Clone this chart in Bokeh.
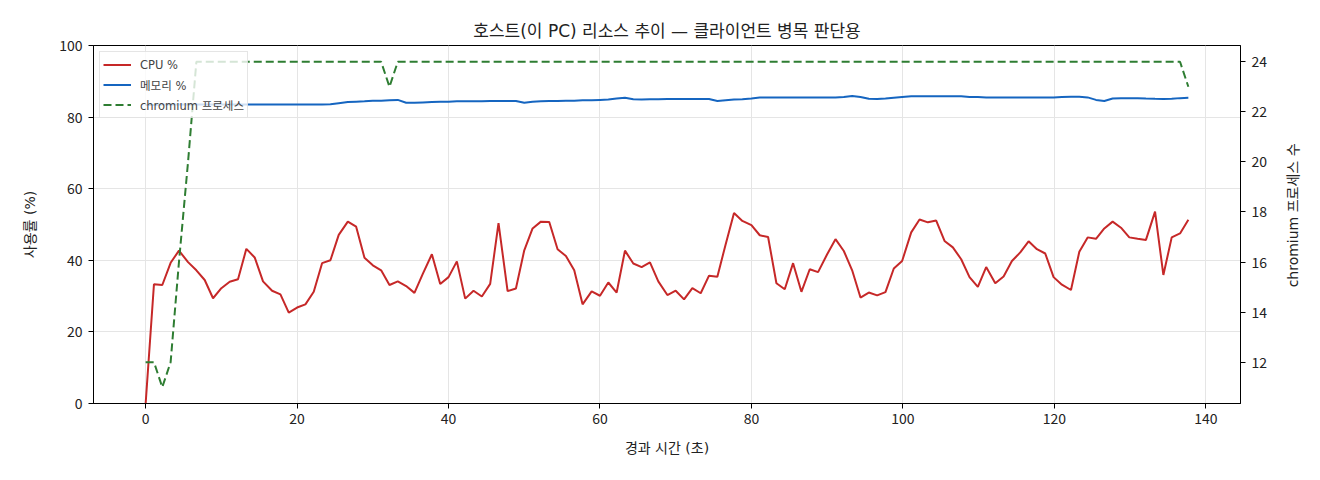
import math
from bokeh.plotting import figure
from bokeh.models import Range1d, LinearAxis, FixedTicker
from bokeh.layouts import row
from bokeh.core.properties import value
from bokeh.embed import file_html
from bokeh.resources import INLINE

FONT = "Noto Sans CJK KR"
WIDE = "DejaVu Sans, Noto Sans CJK KR"

# elapsed seconds of each sample
elapsed = [
    0.0, 1.1, 2.2, 3.3, 4.4, 5.6, 6.7, 7.8, 8.9, 10.0,
    11.1, 12.2, 13.3, 14.4, 15.5, 16.7, 17.8, 18.9, 20.0, 21.1,
    22.2, 23.3, 24.4, 25.5, 26.7, 27.8, 28.9, 30.0, 31.1, 32.2,
    33.3, 34.4, 35.5, 36.6, 37.8, 38.9, 40.0, 41.1, 42.2, 43.3,
    44.4, 45.5, 46.6, 47.8, 48.9, 50.0, 51.1, 52.2, 53.3, 54.4,
    55.5, 56.6, 57.7, 58.9, 60.0, 61.1, 62.2, 63.3, 64.4, 65.5,
    66.6, 67.7, 68.9, 70.0, 71.1, 72.2, 73.3, 74.4, 75.5, 76.6,
    77.7, 78.8, 80.0, 81.1, 82.2, 83.3, 84.4, 85.5, 86.6, 87.7,
    88.8, 90.0, 91.1, 92.2, 93.3, 94.4, 95.5, 96.6, 97.7, 98.8,
    99.9, 101.1, 102.2, 103.3, 104.4, 105.5, 106.6, 107.7, 108.8, 109.9,
    111.0, 112.2, 113.3, 114.4, 115.5, 116.6, 117.7, 118.8, 119.9, 121.0,
    122.2, 123.3, 124.4, 125.5, 126.6, 127.7, 128.8, 129.9, 131.0, 132.1,
    133.3, 134.4, 135.5, 136.6, 137.7,
]

cpu_pct = [
    0.0,
    33.3, 33.1, 39.3, 42.7, 39.5, 37.2, 34.5, 29.4, 32.2, 34.0,
    34.7, 43.2, 40.8, 34.1, 31.5, 30.5, 25.4, 26.8, 27.7, 31.2,
    39.2, 40.0, 47.1, 50.8, 49.4, 40.7, 38.6, 37.2, 33.1, 34.1,
    32.8, 30.9, 36.2, 41.7, 33.4, 35.3, 39.7, 29.3, 31.5, 29.9,
    33.4, 50.4, 31.4, 32.1, 42.8, 48.9, 50.8, 50.7, 43.1, 41.2,
    37.2, 27.7, 31.3, 30.1, 33.8, 31.0, 42.7, 39.1, 38.1, 39.4,
    34.1, 30.3, 31.5, 29.1, 32.2, 30.8, 35.7, 35.4, 44.5, 53.2,
    51.0, 49.8, 47.0, 46.5, 33.6, 31.9, 39.2, 31.2, 37.5, 36.7,
    41.7, 45.9, 42.6, 37.2, 29.6, 31.0, 30.2, 31.1, 37.7, 39.8,
    47.8, 51.4, 50.6, 51.1, 45.4, 43.6, 40.3, 35.3, 32.6, 38.1,
    33.6, 35.5, 39.8, 42.2, 45.3, 43.1, 41.9, 35.3, 33.2, 31.7,
    42.4, 46.4, 46.0, 48.9, 50.8, 49.1, 46.4, 46.0, 45.7, 53.6,
    35.9, 46.4, 47.5, 51.3,
]

mem_pct = [
    83.4, 83.4, 83.5, 83.5, 83.5, 83.5, 83.5, 83.5, 83.5, 83.5,
    83.5, 83.5, 83.5, 83.5, 83.55, 83.55, 83.55, 83.55, 83.55, 83.55,
    83.55, 83.55, 83.6, 83.9, 84.2, 84.3, 84.4, 84.6, 84.6, 84.7,
    84.8, 84.0, 84.0, 84.1, 84.2, 84.3, 84.3, 84.4, 84.4, 84.4,
    84.4, 84.5, 84.5, 84.5, 84.5, 84.0, 84.3, 84.4, 84.5, 84.5,
    84.6, 84.6, 84.7, 84.7, 84.8, 84.9, 85.2, 85.4, 85.0, 84.95,
    85.0, 85.0, 85.05, 85.05, 85.05, 85.05, 85.05, 85.05, 84.5, 84.7,
    84.9, 85.0, 85.2, 85.5, 85.5, 85.5, 85.5, 85.5, 85.5, 85.5,
    85.5, 85.5, 85.5, 85.6, 85.9, 85.6, 85.1, 85.05, 85.2, 85.4,
    85.6, 85.8, 85.8, 85.8, 85.8, 85.8, 85.8, 85.8, 85.6, 85.6,
    85.5, 85.5, 85.5, 85.5, 85.5, 85.5, 85.5, 85.5, 85.5, 85.6,
    85.7, 85.7, 85.5, 84.8, 84.5, 85.2, 85.3, 85.3, 85.3, 85.2,
    85.1, 85.05, 85.1, 85.3, 85.4,
]

chromium_procs = [
    12, 12, 11, 12, 16, 20, 24, 24, 24, 24, 24, 24, 24, 24, 24, 24, 24, 24, 24, 24, 24, 24, 24, 24, 24,
    24, 24, 24, 24, 23, 24, 24, 24, 24, 24, 24, 24, 24, 24, 24, 24, 24, 24, 24, 24, 24, 24, 24, 24, 24,
    24, 24, 24, 24, 24, 24, 24, 24, 24, 24, 24, 24, 24, 24, 24, 24, 24, 24, 24, 24, 24, 24, 24, 24, 24,
    24, 24, 24, 24, 24, 24, 24, 24, 24, 24, 24, 24, 24, 24, 24, 24, 24, 24, 24, 24, 24, 24, 24, 24, 24,
    24, 24, 24, 24, 24, 24, 24, 24, 24, 24, 24, 24, 24, 24, 24, 24, 24, 24, 24, 24, 24, 24, 24, 24, 23,
]

x_ticks = [0, 20, 40, 60, 80, 100, 120, 140]
pct_ticks = [0, 20, 40, 60, 80, 100]
proc_ticks = [12, 14, 16, 18, 20, 22, 24]

p = figure(width=1280, height=472, output_backend="svg", toolbar_location=None,
           x_range=Range1d(-6.885, 144.585), y_range=Range1d(0, 100),
           min_border_left=93, min_border_right=40, min_border_top=45, min_border_bottom=69,
           title="호스트(이 PC) 리소스 추이 — 클라이언트 병목 판단용")
p.extra_y_ranges = {"proc": Range1d(10.35, 24.65)}

p.title.align = "center"
p.title.text_font = WIDE
p.title.text_font_size = "17px"
p.title.text_font_style = "normal"
p.title.text_color = "#222222"

p.outline_line_color = "black"
p.outline_line_alpha = 1
p.xgrid.grid_line_color = "#e5e5e5"
p.ygrid.grid_line_color = "#e5e5e5"

p.line(elapsed, cpu_pct, color="#c62828", line_width=2, legend_label="CPU %")
p.line(elapsed, mem_pct, color="#1565c0", line_width=2, legend_label="메모리 %")
p.line(elapsed, chromium_procs, color="#2e7d32", line_width=2, line_dash="8 4",
       y_range_name="proc", legend_label="chromium 프로세스")

right = LinearAxis(y_range_name="proc")
p.add_layout(right, "right")

p.xaxis.ticker = FixedTicker(ticks=x_ticks)
p.yaxis[0].ticker = FixedTicker(ticks=pct_ticks)
right.ticker = FixedTicker(ticks=proc_ticks)
p.xaxis.axis_label = "경과 시간 (초)"
p.yaxis[0].axis_label = "사용률 (%)"

for ax in [p.xaxis[0], p.yaxis[0], right]:
    ax.axis_line_color = "black"
    ax.major_tick_line_color = "black"
    ax.major_tick_in = 0
    ax.major_tick_out = 5
    ax.minor_tick_line_color = None
    ax.major_label_text_font = FONT
    ax.major_label_text_font_size = "14px"
    ax.major_label_text_color = "#222222"
    ax.axis_label_text_font = WIDE
    ax.axis_label_text_font_size = "14px"
    ax.axis_label_text_font_style = "normal"
    ax.axis_label_text_color = "#222222"

p.xaxis[0].major_label_standoff = 4
p.xaxis[0].axis_label_standoff = 13
p.yaxis[0].major_label_standoff = 6
p.yaxis[0].axis_label_standoff = 18
right.major_label_standoff = 6

lg = p.legend[0]
lg.location = "top_left"
lg.margin = 6
lg.padding = 3
lg.spacing = 1
lg.glyph_width = 28
lg.glyph_height = 19
lg.label_standoff = 9
lg.label_text_font = WIDE
lg.label_text_font_size = "11.5px"
lg.label_height = 19
lg.border_line_color = "#cccccc"
lg.background_fill_alpha = 0.8

# strip to the right holding the right-hand axis title, read bottom to top
side = figure(width=32, height=472, output_backend="svg", toolbar_location=None,
              x_range=Range1d(0, 32), y_range=Range1d(0, 472),
              x_axis_location=None, y_axis_location=None, min_border=0)
side.outline_line_color = None
side.grid.visible = False
side.text(x=[12], y=[248], text=["chromium 프로세스 수"], angle=math.pi / 2,
          text_align="center", text_baseline="middle",
          text_font=value(WIDE), text_font_size="14px", text_color="#222222")

layout = row(p, side)
open("out.html", "w").write(file_html(layout, INLINE))
